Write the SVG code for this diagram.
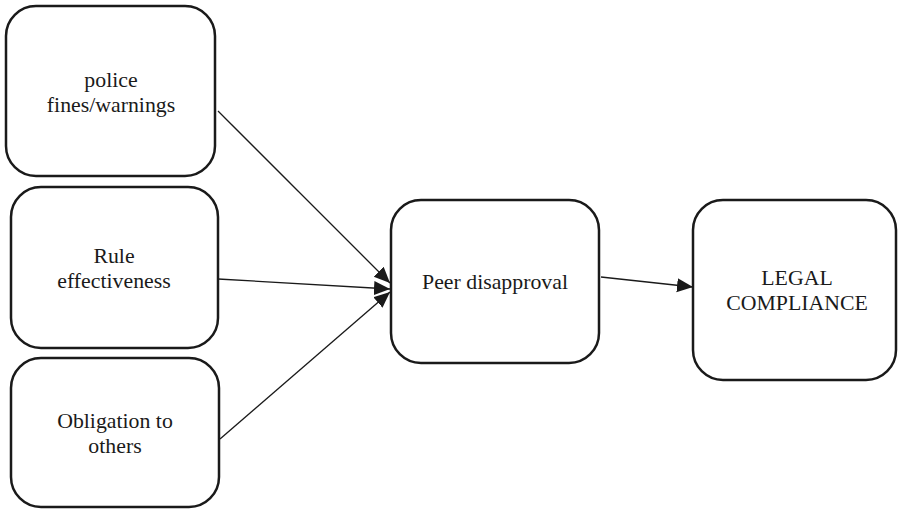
<svg xmlns="http://www.w3.org/2000/svg" width="898" height="510" viewBox="0 0 898 510">
<style>
.box{fill:#fff;stroke:#1a1a1a;stroke-width:2.5}
.lbl{font-size:21.8px;fill:#1a1a1a;text-anchor:middle}
.con{stroke:#1a1a1a;stroke-width:1.3;fill:none;marker-end:url(#ah)}
</style>
<defs>
<marker id="ah" markerUnits="userSpaceOnUse" markerWidth="17" markerHeight="15" refX="16" refY="7" orient="auto">
<path d="M0,0 L16,7 L0,14 z" fill="#1a1a1a"/>
</marker>
</defs>
<rect width="898" height="510" fill="#fff"/>
<g font-family="Liberation Serif, DejaVu Serif, serif">
<g id="n1">
<rect class="box" x="6" y="6" width="209" height="170" rx="30"/>
<text class="lbl" x="111" y="87">police</text>
<text class="lbl" x="111" y="112">fines/warnings</text>
</g>
<g id="n2">
<rect class="box" x="11" y="187" width="207" height="161" rx="30"/>
<text class="lbl" x="114" y="263">Rule</text>
<text class="lbl" x="114" y="288">effectiveness</text>
</g>
<g id="n3">
<rect class="box" x="11" y="358" width="208" height="149" rx="30"/>
<text class="lbl" x="115" y="428">Obligation to</text>
<text class="lbl" x="115" y="453">others</text>
</g>
<g id="n4">
<rect class="box" x="391" y="200" width="208" height="163" rx="30"/>
<text class="lbl" x="495" y="289">Peer disapproval</text>
</g>
<g id="n5">
<rect class="box" x="693" y="200" width="203" height="180" rx="30"/>
<text class="lbl" x="797" y="285">LEGAL</text>
<text class="lbl" x="797" y="310">COMPLIANCE</text>
</g>
</g>
<g id="connectors">
<line class="con" x1="218" y1="111" x2="390" y2="283"/>
<line class="con" x1="218" y1="279" x2="390" y2="289"/>
<line class="con" x1="220" y1="439" x2="390" y2="292"/>
<line class="con" x1="601" y1="277" x2="693" y2="287"/>
</g>
</svg>
